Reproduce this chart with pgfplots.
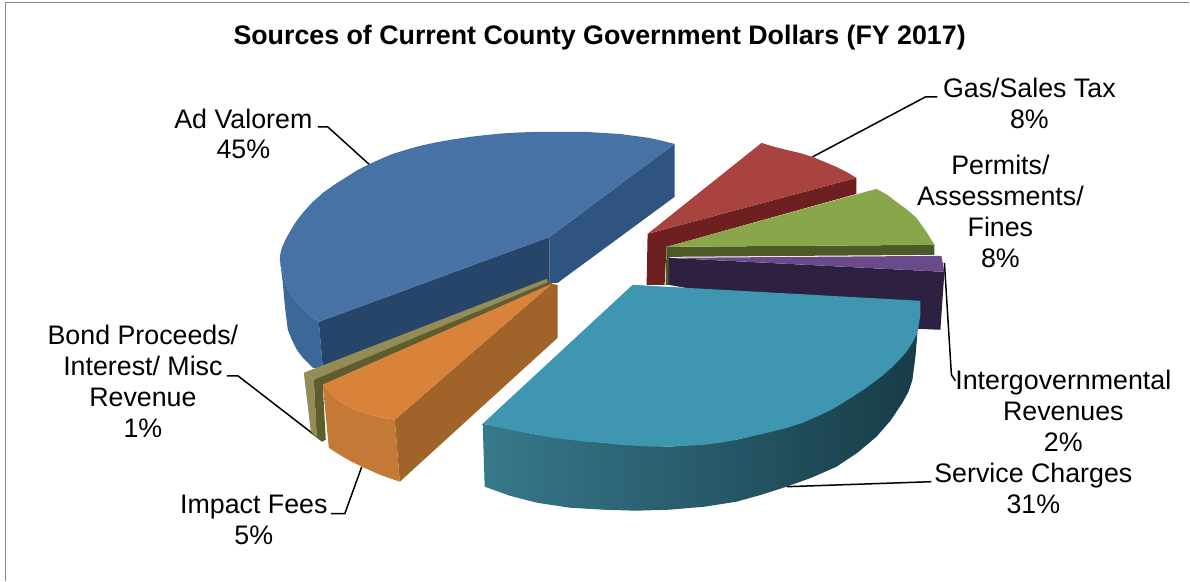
\documentclass[border=0pt]{standalone}
\usepackage{pgfplots}
\pgfplotsset{compat=1.18}
\usepackage{fontspec}
\setmainfont{Liberation Sans}

\definecolor{blueTop}{HTML}{4672A6}
\definecolor{blueSide}{HTML}{305480}
\definecolor{blueFront}{HTML}{264569}
\definecolor{blueWall}{HTML}{3B6899}
\definecolor{redTop}{HTML}{A8433F}
\definecolor{redWall}{HTML}{6E2020}
\definecolor{greenTop}{HTML}{8AA64A}
\definecolor{greenWall}{HTML}{4B5A26}
\definecolor{purpleTop}{HTML}{6A4A8A}
\definecolor{purpleWall}{HTML}{2E2040}
\definecolor{tealTop}{HTML}{3F96B0}
\definecolor{tealA}{HTML}{37798B}
\definecolor{tealB}{HTML}{28596A}
\definecolor{tealC}{HTML}{183C48}
\definecolor{orangeTop}{HTML}{D9823A}
\definecolor{orangeWall}{HTML}{C47A36}
\definecolor{orangeSide}{HTML}{A0642A}
\definecolor{oliveTop}{HTML}{948C56}
\definecolor{oliveDark}{HTML}{5F5D30}
\definecolor{frameGray}{HTML}{868686}

\tikzset{lab/.style={font=\fontsize{26.8}{31}\selectfont, align=center, inner sep=0pt}}

\begin{document}
\begin{tikzpicture}
\begin{axis}[
    width=1190pt,
    height=581pt,
    scale only axis,
    hide axis,
    xmin=0, xmax=1190,
    ymin=0, ymax=581,
    y dir=reverse,
    clip=false,
    no markers,
    every axis plot/.append style={draw=none, line join=round},
]

% keeps the page at the full canvas
\addplot[draw=none] coordinates {(0,0) (1190,581)};

% frame
\addplot[draw=frameGray, line width=1.5pt] coordinates {
    (5.5,581) (5.5,2.5) (1190,2.5)
};

% leader lines
\addplot[draw=black, line width=1.5pt] coordinates {(318,127) (328,127) (370,165)};
\addplot[draw=black, line width=1.5pt] coordinates {(813,157) (926,97) (938,97)};
\addplot[draw=black, line width=1.5pt] coordinates {(945,263) (952,375) (956,381)};
\addplot[draw=black, line width=1.5pt] coordinates {(787,487) (932,482)};
\addplot[draw=black, line width=1.5pt] coordinates {(331,514) (345,514) (362,467)};
\addplot[draw=black, line width=1.5pt] coordinates {(227,376) (238,376) (317,437)};

% Ad Valorem
\addplot[fill=blueWall] coordinates {
    (280,260) (282,270) (288,290) (295,300) (303,308) (311,316) (319,322) (323,368)
    (313,368) (303,358) (297,350) (292,340) (288,330) (285,306) (283,283)
};
\addplot[fill=blueSide] coordinates {(550,237) (675,144) (675,197) (558,283) (550,283)};
\addplot[fill=blueFront] coordinates {(319,322) (550,237) (550,283) (323,368)};
\addplot[fill=blueTop] coordinates {
    (675,144) (663,141) (650,138) (635,136) (620,134) (603,133) (587,132) (570,132)
    (553,132) (537,132) (520,132.5) (503,133.5) (487,135) (470,137) (453,139.5) (436,142.5)
    (420,146) (406,150) (393,154) (381,159) (370,164) (358,170) (347,177) (335,184.5)
    (323,193) (312.5,202.5) (303,213) (296,222) (290,232) (285.5,240) (282,248)
    (280.5,254) (280,260) (282,270) (288,290) (295,300) (303,308) (311,316) (319,322)
    (550,237)
};

% Gas/Sales Tax
\addplot[fill=redWall] coordinates {(648,234) (857,178) (857,194) (667,247) (665,285) (647,285)};
\addplot[fill=redTop] coordinates {
    (648,234) (762,143) (775,147) (787,150) (800,153) (813,157) (825,162) (837,167)
    (847,172) (857,178)
};

% Permits/Assessments/Fines
\addplot[fill=greenWall] coordinates {(667,247) (935,245) (935,255) (670,257) (670,285) (666,285)};
\addplot[fill=greenTop] coordinates {
    (667,247) (877,189) (888,195) (897,202) (908,210) (917,218) (927,232) (935,245)
};

% Intergovernmental Revenues
\addplot[fill=purpleWall] coordinates {(669,258) (945,272) (941,330) (918,329) (669,285)};
\addplot[fill=purpleTop] coordinates {(670,258) (942,256) (945,272)};

% Bond Proceeds
\addplot[fill=oliveTop] coordinates {(304,373) (314,380) (317,438) (311,432)};
\addplot[fill=oliveTop] coordinates {(304,373) (547,279) (549,284) (314,380)};
\addplot[fill=oliveDark] coordinates {(314,380) (549,282) (553,284) (323,385) (326,440) (322,442) (317,438)};

% Impact Fees
\addplot[fill=orangeSide] coordinates {(395,420) (552,284) (558,285) (558,338) (400,482)};
\addplot[fill=orangeWall] coordinates {
    (323,385) (331,394) (340,402) (351,408) (363,413) (379,417) (395,420) (400,482)
    (380,475) (362,467) (350,461) (338,454) (329,448)
};
\addplot[fill=orangeTop] coordinates {
    (552,284) (323,385) (331,394) (340,402) (351,408) (363,413) (379,417) (395,420)
};

% Service Charges
\addplot[left color=tealA, middle color=tealB, right color=tealC] coordinates {
    (483,424) (537,435) (603,443) (670,447) (737,440) (803,423) (853,397)
    (893,367) (918,333) (916,357) (913,380) (909,392) (903,403) (891,421) (877,437)
    (858,453) (837,467) (812,478) (787,487) (762,495) (737,502) (705,507)
    (670,510) (636,511) (603,510) (570,508) (537,503) (510,496) (485,487)
};
\addplot[fill=tealTop] coordinates {
    (633,285) (921,301) (921,315) (918,333) (913,343) (907,352) (900,360) (893,367)
    (884,375) (875,382) (864,390) (853,397) (842,404) (830,411) (817,417) (803,423)
    (788,428) (772,432) (755,436) (737,440) (721,443) (705,445) (688,446) (670,447)
    (653,447) (636,446) (620,445) (603,443) (586,442) (570,440) (553,438) (537,435)
    (510,430) (483,424)
};

% labels
\node[lab, font=\fontsize{26.8}{31}\selectfont\bfseries] at (axis cs:600,38) {Sources of Current County Government Dollars (FY 2017)};
\node[lab] at (axis cs:243.5,134) {Ad Valorem\\45\%};
\node[lab] at (axis cs:1030,103) {Gas/Sales Tax\\8\%};
\node[lab] at (axis cs:1001,212) {Permits/\\Assessments/\\Fines\\8\%};
\node[lab] at (axis cs:1064,411) {Intergovernmental\\Revenues\\2\%};
\node[lab] at (axis cs:1034,489) {Service Charges\\31\%};
\node[lab] at (axis cs:143,382) {Bond Proceeds/\\Interest/ Misc\\Revenue\\1\%};
\node[lab] at (axis cs:254,520) {Impact Fees\\5\%};

\end{axis}
\end{tikzpicture}
\end{document}
